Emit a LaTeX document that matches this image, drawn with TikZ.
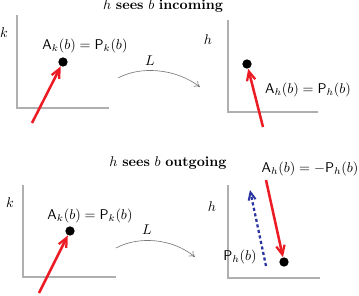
\documentclass[tikz,border=0pt]{standalone}
\usetikzlibrary{arrows.meta}
\definecolor{arrred}{RGB}{236,28,36}
\definecolor{arrblue}{RGB}{42,52,160}
\definecolor{axisgray}{RGB}{175,175,175}
\definecolor{arcgray}{RGB}{120,120,120}
\tikzset{
  axisline/.style={draw=axisgray, line width=0.8pt},
  maparc/.style={draw=arcgray, line width=0.45pt, -{To[length=4pt,width=5pt]}},
  redarrow/.style={draw=arrred, line width=1.8pt, -{Straight Barb[length=6.5pt,width=6pt,line width=1.6pt]}},
  bluearrow/.style={draw=arrblue, line width=1.6pt, dash pattern=on 2.2pt off 1.8pt, -{Straight Barb[length=5.5pt,width=5pt,line width=1.4pt]}},
  dotnode/.style={circle, fill=black, inner sep=0pt, minimum size=6.6pt},
  lab/.style={inner sep=0pt, font=\normalsize},
}
\begin{document}
\begin{tikzpicture}[x=0.71pt, y=-0.71pt]
\useasboundingbox (0,0) rectangle (359,295);
% titles
\node[lab] (t1) at (163,6) {$h$ \textbf{sees} $b$ \textbf{incoming}};
\node[lab] (t2) at (168,163) {$h$ \textbf{sees} $b$ \textbf{outgoing}};
% axes
\coordinate (tla) at (17,15); \coordinate (tlo) at (17,108); \coordinate (tlb) at (109,108);
\coordinate (tra) at (228,20); \coordinate (tro) at (228,112); \coordinate (trb) at (318,112);
\coordinate (bla) at (23,185); \coordinate (blo) at (23,277); \coordinate (blb) at (116,277);
\coordinate (bra) at (228,185); \coordinate (bro) at (228,278); \coordinate (brb) at (320,278);
\draw[axisline] (tla) -- (tlo) -- (tlb);
\draw[axisline] (tra) -- (tro) -- (trb);
\draw[axisline] (bla) -- (blo) -- (blb);
\draw[axisline] (bra) -- (bro) -- (brb);
% axis labels
\node[lab] (k1) at (4,33) {$k$};
\node[lab] (h1) at (208,40) {$h$};
\node[lab] (k2) at (10,203) {$k$};
\node[lab] (h2) at (212,207) {$h$};
% dots
\node[dotnode] (d1) at (63,62) {};
\node[dotnode] (d2) at (247,64) {};
\node[dotnode] (d3) at (70,231) {};
\node[dotnode] (d4) at (284,262) {};
% labels
\node[lab] (l1) at (85,46) {$\mathsf{A}_k(b)=\mathsf{P}_k(b)$};
\node[lab] (l2) at (308,90) {$\mathsf{A}_h(b)=\mathsf{P}_h(b)$};
\node[lab] (l3) at (90,216) {$\mathsf{A}_k(b)=\mathsf{P}_k(b)$};
\node[lab] (l4) at (310,169) {$\mathsf{A}_h(b)=-\mathsf{P}_h(b)$};
\node[lab] (l5) at (240,257) {$\mathsf{P}_h(b)$};
% red arrows
\coordinate (s1) at (32,123);
\coordinate (s2) at (263,127);
\coordinate (s3) at (39,293);
\coordinate (s4) at (266,180);
\draw[redarrow] (s1) -- (d1);
\draw[redarrow] (s2) -- (d2);
\draw[redarrow] (s3) -- (d3);
\draw[redarrow] (s4) -- (d4);
% blue dashed arrow
\coordinate (b0) at (266,266);
\coordinate (b1) at (250,190);
\draw[bluearrow] (b0) -- (b1);
% map arcs
\coordinate (m1s) at (118,78); \coordinate (m1e) at (200,87);
\coordinate (m2s) at (116,248); \coordinate (m2e) at (195,257);
\draw[maparc] (m1s) .. controls (140,66) and (175,68) .. (m1e);
\draw[maparc] (m2s) .. controls (138,236) and (172,238) .. (m2e);
\node[lab] (L1) at (150,61) {$L$};
\node[lab] (L2) at (147,230) {$L$};
\end{tikzpicture}
\end{document}
